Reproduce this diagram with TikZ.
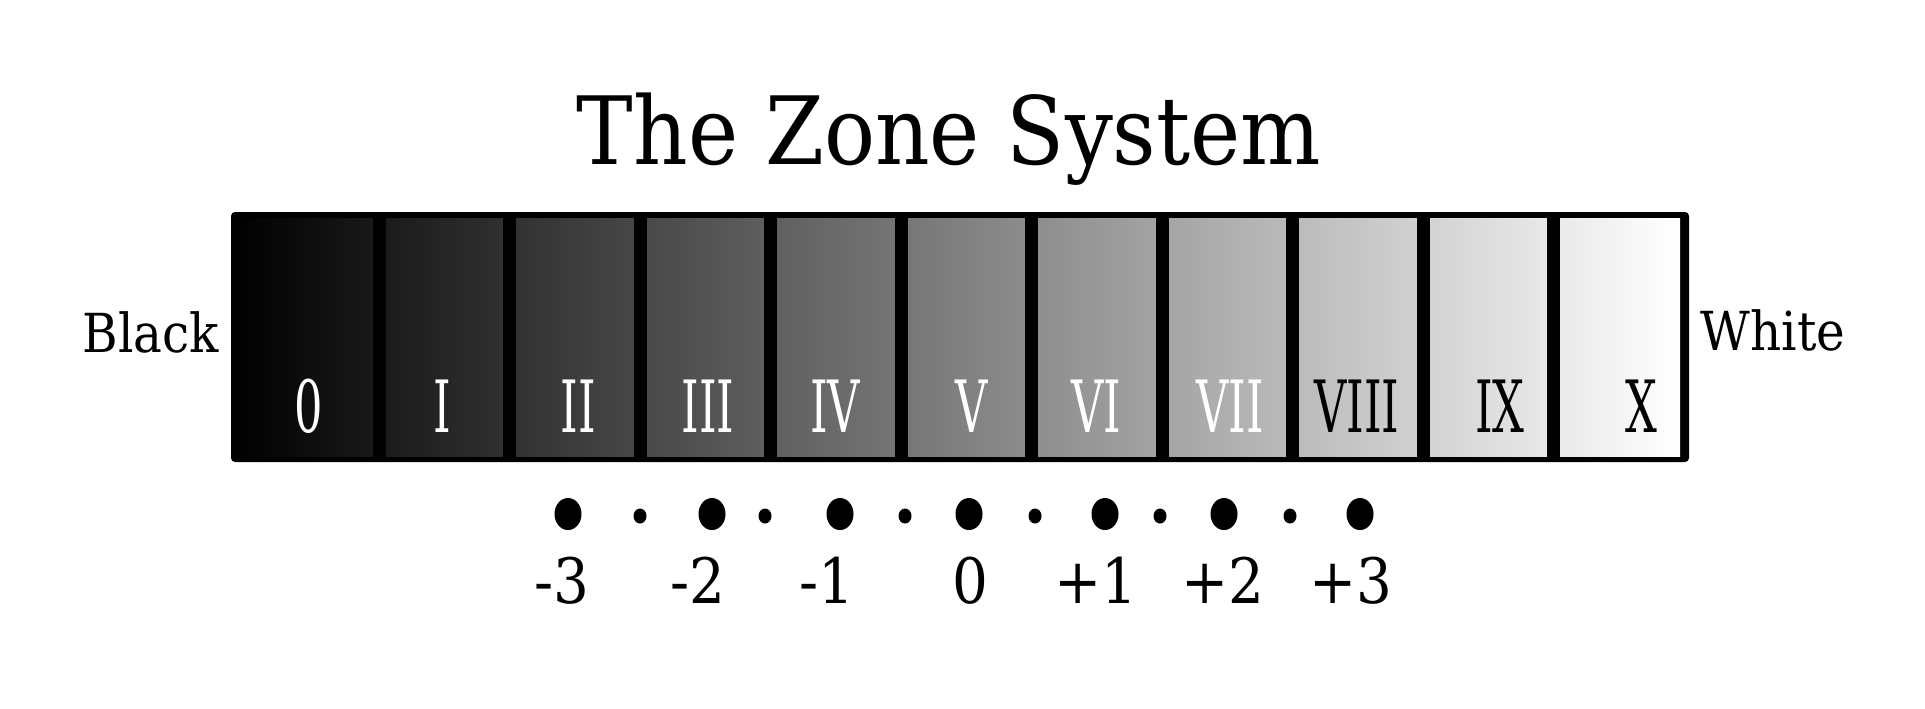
\documentclass[tikz,border=0pt]{standalone}
\usepackage{fontspec}
\setmainfont{DejaVu Serif}
\newfontfamily\titlefont[FakeStretch=0.9]{DejaVu Serif}
\newfontfamily\zonefont[FakeStretch=0.62]{DejaVu Serif}
\usepackage{tikz}

\begin{document}
\begin{tikzpicture}[x=0.01cm, y=-0.01cm,
zonenum/.style={font=\zonefont\fontsize{20.5}{24}\selectfont, text=white, inner sep=0pt, anchor=base},
lightzone/.style={zonenum, text=black},
stopnum/.style={font=\titlefont\fontsize{17.8}{20}\selectfont, inner sep=0pt, anchor=base},
sidelabel/.style={font=\titlefont\fontsize{15.3}{18}\selectfont, inner sep=0pt}]

\useasboundingbox (0,0) rectangle (1925,708);

\node[font=\titlefont\fontsize{26.8}{30}\selectfont, inner sep=0pt, anchor=base]	(title) at (949,164)	{The Zone System};

% the bar
\fill[black, rounded corners=0.4mm] (231,212) rectangle (1689,462);
\shade[left color=black, right color=white] (233,218) rectangle (1680,456);
\foreach \s in {379,509.5,640,770.5,901,1031.5,1162,1292.5,1423,1553.5}
	\draw[line width=1.3mm] (\s,215) -- (\s,459);

\node[sidelabel, anchor=base east]		(black) at (220,352)		{Black};
\node[sidelabel, anchor=base west]		(white) at (1700,350)		{White};

\node[zonenum]		(z0) at (309,432)		{0};
\node[zonenum]		(z1) at (442,432)		{I};
\node[zonenum]		(z2) at (578,432)		{II};
\node[zonenum]		(z3) at (708,432)		{III};
\node[zonenum]		(z4) at (835,432)		{IV};
\node[zonenum]		(z5) at (972,432)		{V};
\node[zonenum]		(z6) at (1096,432)		{VI};
\node[zonenum]		(z7) at (1230,432)		{VII};
\node[lightzone]	(z8) at (1357,432)		{VIII};
\node[lightzone]	(z9) at (1500,432)		{IX};
\node[lightzone]	(z10) at (1641,432)		{X};

% stops
\foreach \x in {568,712,840,969,1105,1224,1360}
	\fill (\x,514) ellipse [x radius=1.35mm, y radius=1.6mm];
\foreach \x in {640,765,905,1035,1160,1290}
	\fill (\x,516) ellipse [x radius=0.65mm, y radius=0.75mm];

\node[stopnum]		(m3) at (562,603)		{-3};
\node[stopnum]		(m2) at (698,603)		{-2};
\node[stopnum]		(m1) at (827,603)		{-1};
\node[stopnum]		(s0) at (970,603)		{0};
\node[stopnum]		(p1) at (1096,603)		{+1};
\node[stopnum]		(p2) at (1223,603)		{+2};
\node[stopnum]		(p3) at (1351,603)		{+3};

\end{tikzpicture}
\end{document}
